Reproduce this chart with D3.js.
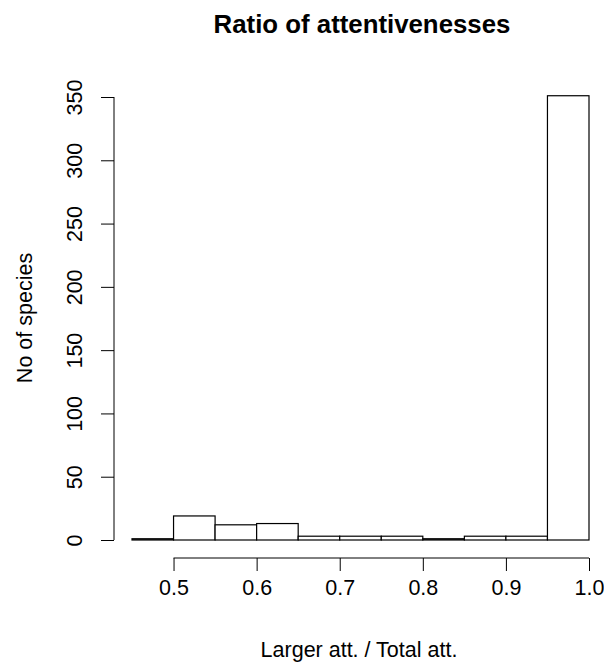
<!DOCTYPE html>
<html>
<head>
<meta charset="utf-8">
<script src="https://cdn.jsdelivr.net/npm/d3@7"></script>
<style>
  body { margin: 0; background: #fff; }
  text { font-family: "Liberation Sans", Arial, sans-serif; fill: #000; }
</style>
</head>
<body>
<div id="chart"></div>
<script>
// histogram bins (lower edges) and counts
const binStarts = [0.45, 0.5, 0.55, 0.6, 0.65, 0.7, 0.75, 0.8, 0.85, 0.9, 0.95];
const binWidth = 0.05;
const counts = [1, 19, 12, 13, 3, 3, 3, 1, 3, 3, 351];
const xTicks = [0.5, 0.6, 0.7, 0.8, 0.9, 1.0];
const yTicks = [0, 50, 100, 150, 200, 250, 300, 350];

const width = 604, height = 662;
const fontFam = '"Liberation Sans", Arial, sans-serif';

const svg = d3.select('#chart')
  .append('svg')
  .attr('width', width)
  .attr('height', height);

const x = d3.scaleLinear()
  .domain([0.45, 1.0])
  .range([132.0, 589.0]);

const y = d3.scaleLinear()
  .domain([0, 350])
  .range([540, 97]);

// Bars
svg.selectAll('.bar')
  .data(binStarts)
  .enter()
  .append('rect')
  .attr('class', 'bar')
  .attr('x', d => x(d))
  .attr('width', d => x(d + binWidth) - x(d))
  .attr('y', (d, i) => y(counts[i]))
  .attr('height', (d, i) => y(0) - y(counts[i]))
  .attr('fill', '#fff')
  .attr('stroke', '#000')
  .attr('stroke-width', 1.2);

// X axis
const xAxis = svg.append('g')
  .attr('transform', 'translate(0,558)')
  .call(d3.axisBottom(x).tickValues(xTicks).tickSize(13).tickFormat(d3.format('.1f')));
xAxis.select('.domain').attr('d', `M${x(0.5)},0H${x(1.0)}`).attr('stroke', '#000');
xAxis.selectAll('.tick line').attr('stroke', '#000');
xAxis.selectAll('text')
  .attr('y', 37)
  .attr('dy', 0)
  .style('font-size', '21.5px')
  .style('font-family', fontFam);

// Y axis
const yAxis = svg.append('g')
  .attr('transform', 'translate(114,0)')
  .call(d3.axisLeft(y).tickValues(yTicks).tickSize(13));
yAxis.select('.domain').attr('d', `M0,${y(0)}V${y(350)}`).attr('stroke', '#000');
yAxis.selectAll('.tick line').attr('stroke', '#000');
yAxis.selectAll('text')
  .attr('x', 0)
  .attr('dy', 0)
  .attr('transform', 'translate(-32,0) rotate(-90)')
  .attr('text-anchor', 'middle')
  .style('font-size', '21.5px')
  .style('font-family', fontFam);

// Title and axis labels
svg.append('text')
  .attr('x', 362)
  .attr('y', 33)
  .attr('text-anchor', 'middle')
  .style('font-size', '25.8px')
  .style('font-weight', 'bold')
  .text('Ratio of attentivenesses');

svg.append('text')
  .attr('x', 359)
  .attr('y', 657)
  .attr('text-anchor', 'middle')
  .style('font-size', '21.5px')
  .text('Larger att. / Total att.');

svg.append('text')
  .attr('transform', 'translate(32,318) rotate(-90)')
  .attr('text-anchor', 'middle')
  .style('font-size', '21.5px')
  .text('No of species');
</script>
</body>
</html>
